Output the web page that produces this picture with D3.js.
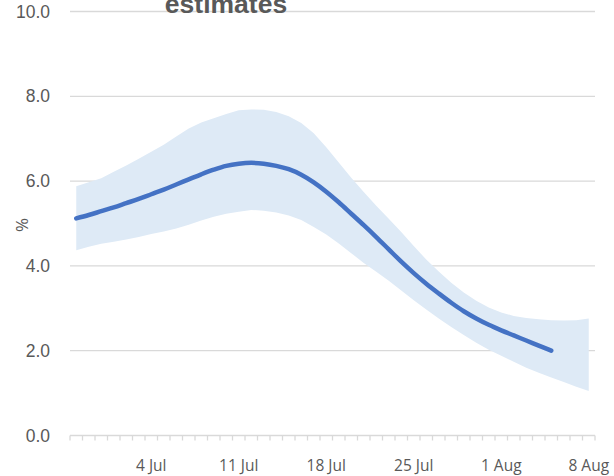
<!DOCTYPE html>
<html>
<head>
<meta charset="utf-8">
<script src="https://cdn.jsdelivr.net/npm/d3@7"></script>
<style>
  html, body { margin: 0; padding: 0; background: #ffffff; }
  svg { display: block; }
</style>
</head>
<body>
<svg id="chart" width="614" height="476"></svg>
<script>
// ---- data ----
const days = ["28 Jun","29 Jun","30 Jun","1 Jul","2 Jul","3 Jul","4 Jul","5 Jul","6 Jul","7 Jul",
  "8 Jul","9 Jul","10 Jul","11 Jul","12 Jul","13 Jul","14 Jul","15 Jul","16 Jul","17 Jul",
  "18 Jul","19 Jul","20 Jul","21 Jul","22 Jul","23 Jul","24 Jul","25 Jul","26 Jul","27 Jul",
  "28 Jul","29 Jul","30 Jul","31 Jul","1 Aug","2 Aug","3 Aug","4 Aug","5 Aug","6 Aug",
  "7 Aug","8 Aug"];
const tickLabels = ["4 Jul","11 Jul","18 Jul","25 Jul","1 Aug","8 Aug"];
const yTicks = [0, 2, 4, 6, 8, 10];

// central estimate (28 Jun .. 5 Aug)
const estimate = [5.12,5.20,5.29,5.38,5.48,5.58,5.69,5.80,5.92,6.04,
  6.16,6.27,6.36,6.41,6.43,6.41,6.36,6.28,6.15,5.97,
  5.75,5.50,5.23,4.96,4.68,4.39,4.10,3.83,3.58,3.35,
  3.13,2.93,2.76,2.61,2.48,2.36,2.24,2.12,2.00];
// credible interval (28 Jun .. 8 Aug)
const upper = [5.88,5.97,6.07,6.22,6.37,6.53,6.69,6.86,7.05,7.24,
  7.38,7.48,7.58,7.67,7.69,7.68,7.63,7.53,7.37,7.13,
  6.80,6.44,6.08,5.74,5.42,5.11,4.80,4.47,4.15,3.87,
  3.60,3.37,3.18,3.02,2.90,2.82,2.77,2.74,2.72,2.71,
  2.72,2.76];
const lower = [4.37,4.45,4.52,4.57,4.62,4.68,4.75,4.81,4.88,4.97,
  5.07,5.16,5.23,5.28,5.32,5.30,5.26,5.19,5.08,4.92,
  4.74,4.53,4.30,4.07,3.86,3.65,3.42,3.19,2.97,2.76,
  2.56,2.37,2.19,2.02,1.88,1.74,1.60,1.48,1.37,1.26,
  1.15,1.05];

// ---- layout ----
const svg = d3.select("#chart");
const plot = { left: 70, right: 595, top: 11.5, bottom: 435.5 };

const x = d3.scaleBand().domain(days).range([plot.left, plot.right]).padding(0);
const y = d3.scaleLinear().domain([0, 10]).range([plot.bottom, plot.top]);
const cx = d => x(d) + x.bandwidth() / 2;

// gridlines
svg.append("g").selectAll("line")
  .data(yTicks.filter(v => v > 0))
  .join("line")
  .attr("x1", plot.left).attr("x2", plot.right)
  .attr("y1", d => y(d)).attr("y2", d => y(d))
  .attr("stroke", "#d9d9d9").attr("stroke-width", 1.3);

// y labels
svg.append("g").selectAll("text")
  .data(yTicks)
  .join("text")
  .attr("x", 50).attr("y", d => y(d))
  .attr("dy", "0.35em")
  .attr("text-anchor", "end")
  .attr("font-family", "Liberation Sans, Arial, sans-serif")
  .attr("font-size", 17.5)
  .attr("fill", "#595959")
  .text(d => d.toFixed(1));

// band
const band = days.map((d, i) => ({ d, lo: lower[i], hi: upper[i] }));
svg.append("path")
  .datum(band)
  .attr("fill", "#deeaf6")
  .attr("d", d3.area()
    .x(p => cx(p.d))
    .y0(p => y(p.lo))
    .y1(p => y(p.hi))
    .curve(d3.curveLinear));

// x axis
const ax = svg.append("g").attr("transform", `translate(0,${plot.bottom})`);
ax.append("line")
  .attr("x1", plot.left).attr("x2", plot.right)
  .attr("stroke", "#d9d9d9").attr("stroke-width", 1.3);
ax.selectAll("line.tick")
  .data(days.concat(["__end"]))
  .join("line")
  .attr("class", "tick")
  .attr("x1", (d, i) => i < days.length ? x(d) : plot.right)
  .attr("x2", (d, i) => i < days.length ? x(d) : plot.right)
  .attr("y1", 0).attr("y2", 5)
  .attr("stroke", "#d9d9d9").attr("stroke-width", 1.3);
ax.selectAll("text")
  .data(tickLabels)
  .join("text")
  .attr("x", d => cx(d))
  .attr("y", 35)
  .attr("text-anchor", "middle")
  .attr("font-family", "Open Sans, sans-serif")
  .attr("font-size", 15.5)
  .attr("fill", "#595959")
  .text(d => d);

// estimate line
svg.append("path")
  .datum(estimate.map((v, i) => ({ d: days[i], v })))
  .attr("fill", "none")
  .attr("stroke", "#4472c4")
  .attr("stroke-width", 4.5)
  .attr("stroke-linecap", "round")
  .attr("stroke-linejoin", "round")
  .attr("d", d3.line()
    .x(p => cx(p.d))
    .y(p => y(p.v))
    .curve(d3.curveCatmullRom.alpha(0.5)));

// y axis title
svg.append("text")
  .attr("transform", "translate(28,225) rotate(-90)")
  .attr("text-anchor", "middle")
  .attr("font-family", "Open Sans, sans-serif")
  .attr("font-size", 17)
  .attr("fill", "#595959")
  .text("%");

// chart title (top of the title is cropped, as in the source image)
svg.append("text")
  .attr("x", 226).attr("y", 13)
  .attr("text-anchor", "middle")
  .attr("font-family", "Liberation Sans, Arial, sans-serif")
  .attr("font-weight", "bold")
  .attr("font-size", 26.5)
  .attr("fill", "#595959")
  .text("estimates");
</script>
</body>
</html>
